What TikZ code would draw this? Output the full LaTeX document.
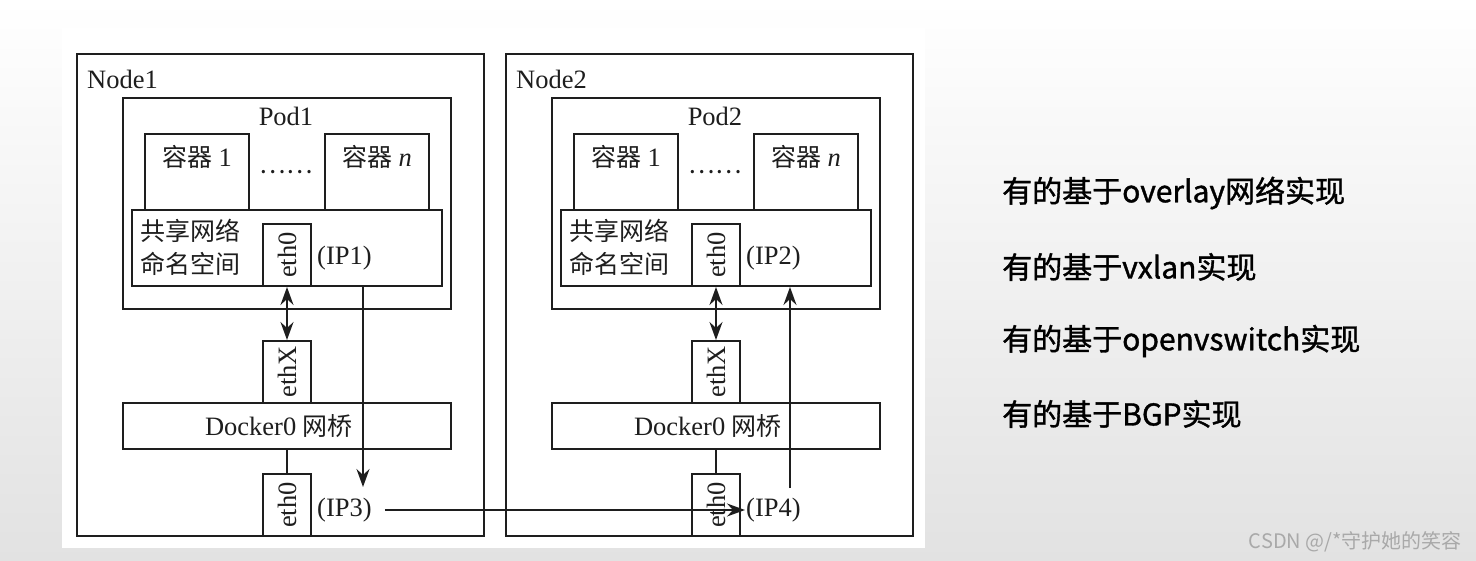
\documentclass[tikz,border=0pt]{standalone}
\usepackage{fontspec}
\setmainfont{Liberation Serif}
\newfontfamily\cjk{Noto Sans CJK SC}
\newfontfamily\cjknote{Noto Sans CJK SC}[FakeBold=1.2]
\usetikzlibrary{positioning, arrows.meta, calc}
\definecolor{bgbottom}{HTML}{E2E2E2}
\definecolor{wmgray}{HTML}{A9A9A9}
\definecolor{linegray}{HTML}{1E1E1E}
\newcommand{\boxfont}{\fontsize{26.5}{33}\selectfont}
\newcommand{\hanfont}{\cjk\fontsize{25}{33}\selectfont}

\begin{document}
\begin{tikzpicture}[x=1pt, y=-1pt, >={Stealth[length=18pt, width=13pt, inset=6pt]},
          box/.style={draw=linegray, line width=2pt, inner sep=0pt, anchor=north west},
          lbl/.style={font=\boxfont, text=linegray, inner sep=1pt},
          cjklbl/.style={font=\hanfont, text=linegray, inner sep=1pt},
          arr/.style={draw=linegray, line width=1.8pt, ->},
          note/.style={font=\cjknote\fontsize{30}{36}\selectfont, anchor=west, inner sep=0pt}]
        \useasboundingbox (0,0) rectangle (1476,561);
        \shade[top color=white, bottom color=bgbottom] (0,0) rectangle (1476,561);
        \fill[white] (62,28) rectangle (925,548);
        \foreach \i/\dx/\ipa/\ipb in {1/0/1/3, 2/429/2/4} {
          \begin{scope}[shift={(\dx,0)}]
            \node[box, minimum width=407pt, minimum height=482pt] (node\i) at (76,53) {};
            \node[lbl, anchor=west] (nodename\i) at (86,79) {Node\i};
            \node[box, minimum width=328pt, minimum height=211pt] (pod\i) at (122,97) {};
            \node[lbl] (podname\i) at (286,116) {Pod\i};
            \node[box, minimum width=104pt, minimum height=76pt] (ctra\i) at (144,133) {};
            \node[lbl] (ctraname\i) at (197,157) {{\hanfont 容器} 1};
            \node[box, minimum width=104pt, minimum height=76pt] (ctrn\i) at (324,133) {};
            \node[lbl] (ctrnname\i) at (377,157) {{\hanfont 容器} \textit{n}};
            \node[cjklbl] (dots\i) at (286,172) {……};
            \node[box, minimum width=310pt, minimum height=76pt] (ns\i) at (131,209) {};
            \node[cjklbl, anchor=west, align=left] (nsname\i) at (139,247) {共享网络\\命名空间};
            \node[box, minimum width=48pt, minimum height=62pt] (etha\i) at (262,223) {};
            \node[lbl, rotate=90] (ethaname\i) at (etha\i.center) {eth0};
            \node[lbl, anchor=west] (ipa\i) at (316,258) {(IP\ipa)};
            \node[box, minimum width=48pt, minimum height=62pt] (ethx\i) at (262,340) {};
            \node[lbl, rotate=90] (ethxname\i) at (ethx\i.center) {ethX};
            \node[box, minimum width=328pt, minimum height=46pt] (dock\i) at (122,402) {};
            \node[lbl] (dockname\i) at (279,426) {Docker0 {\hanfont 网桥}};
            \node[box, minimum width=48pt, minimum height=62pt] (ethb\i) at (262,473) {};
            \node[lbl, rotate=90] (ethbname\i) at (ethb\i.center) {eth0};
            \node[lbl, anchor=west] (ipb\i) at (316,510) {(IP\ipb)};
            \draw[arr, <->] (etha\i) -- (ethx\i);
            \draw[draw=linegray, line width=1.8pt] (dock\i) -- (ethb\i);
          \end{scope}
        }
        \coordinate (down1) at (363,487);
        \coordinate (up2) at (790,488);
        \draw[arr] (ns1.south -| down1) -- (down1);
        \draw[arr] (up2) -- (up2 |- ns2.south);
        \draw[arr, shorten <=12pt] (ipb1.east) -- (ipb2.west);
        \node[note] (note1) at (1002,193) {有的基于overlay网络实现};
        \node[note] (note2) at (1002,267) {有的基于vxlan实现};
        \node[note] (note3) at (1002,341) {有的基于openvswitch实现};
        \node[note] (note4) at (1002,414) {有的基于BGP实现};
        \node[font=\cjk\fontsize{20}{22}\selectfont, text=wmgray, anchor=east, inner sep=0pt] (watermark) at (1462,542) {CSDN @/*守护她的笑容};
      \end{tikzpicture}
\end{document}
